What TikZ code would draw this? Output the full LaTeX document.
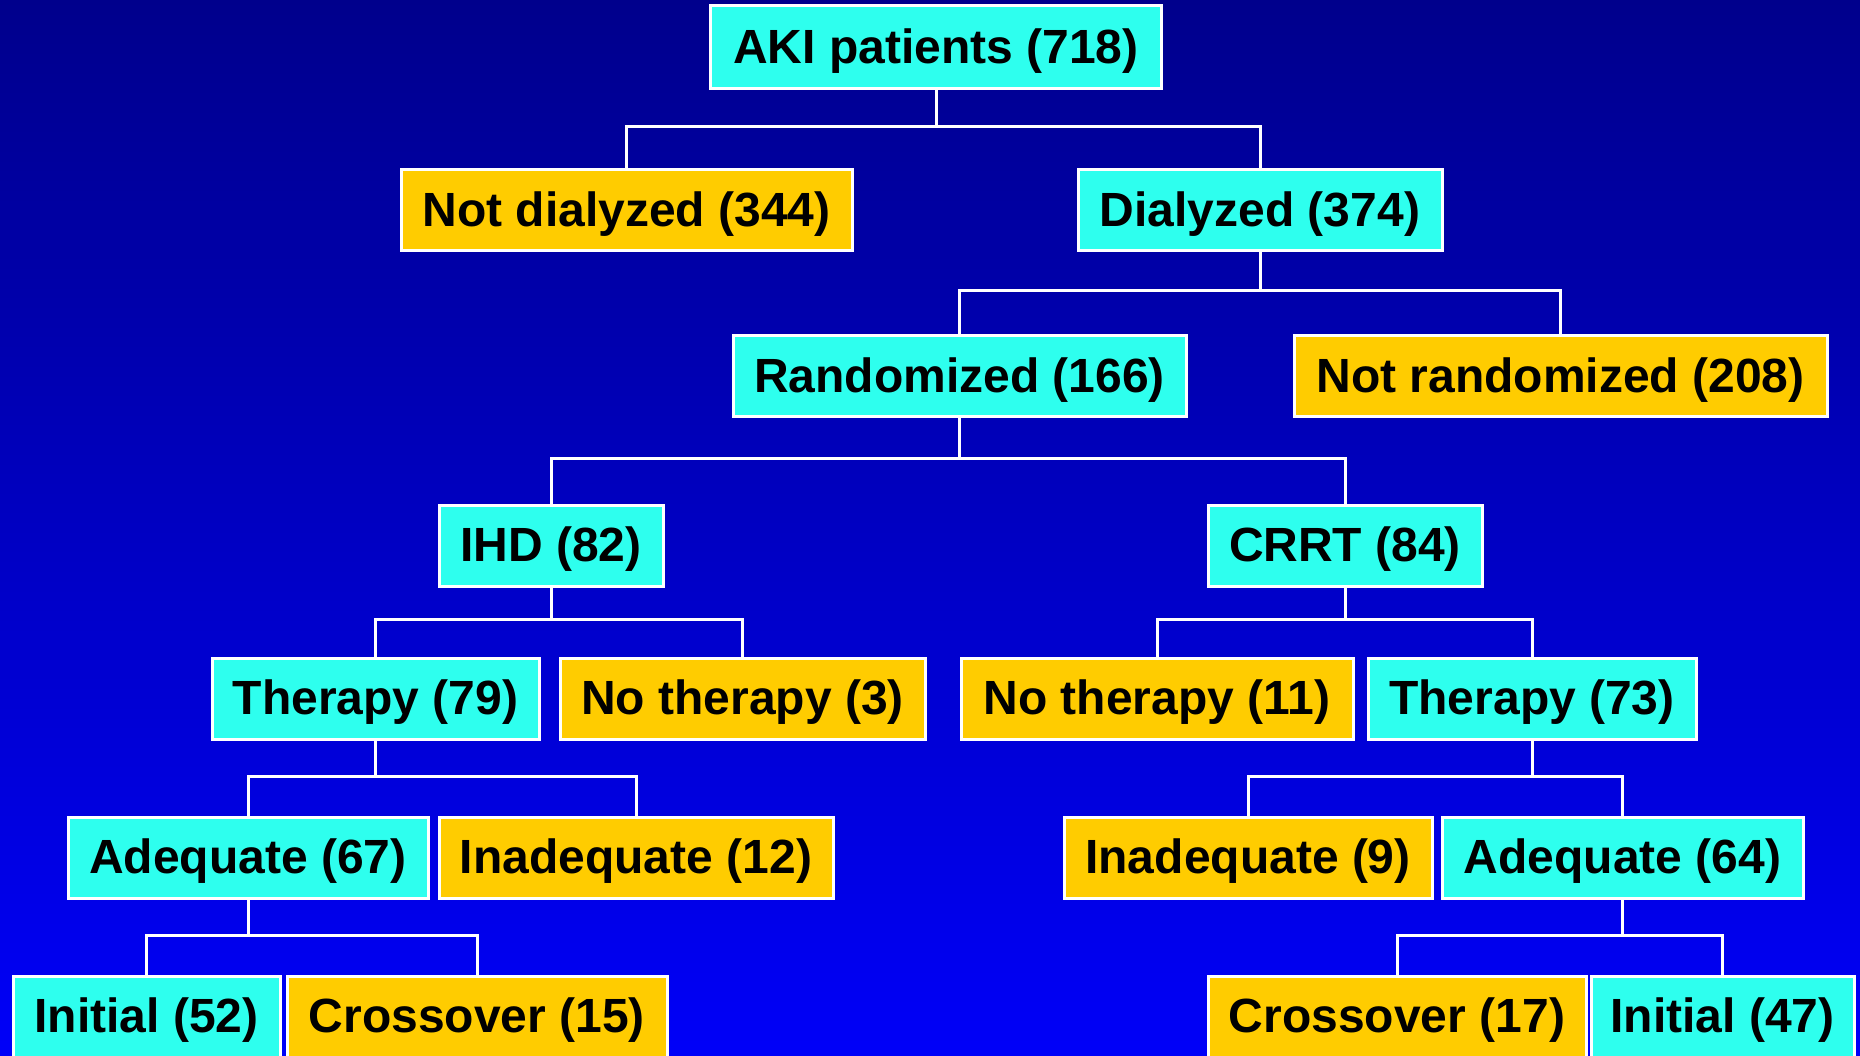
\documentclass[tikz,border=0pt]{standalone}
\usepackage{fontspec}
\setmainfont{Liberation Sans}
\definecolor{boxcyan}{RGB}{46,255,238}
\definecolor{boxorange}{RGB}{255,204,0}
\definecolor{bgtop}{RGB}{0,0,140}
\definecolor{bgbot}{RGB}{0,0,248}
\begin{document}
\begin{tikzpicture}[x=1pt,y=-1pt,
  box/.style={draw=white,line width=3pt,minimum height=81pt,inner sep=0pt,
    text height=36pt,text depth=4pt,
    font=\fontsize{48}{52}\selectfont\bfseries,text=black,anchor=center},
  cy/.style={box,fill=boxcyan},
  og/.style={box,fill=boxorange},
  link/.style={draw=white,line width=3pt}]
\useasboundingbox (0,0) rectangle (1860,1055);
\shade[top color=bgtop,bottom color=bgbot] (0,0) rectangle (1860,1055);
\begin{scope}
\clip (0,0) rectangle (1860,1055);
% nodes
\node[cy,minimum width=451pt,minimum height=83pt] (aki) at (936,47) {AKI patients (718)};
\node[og,minimum width=451pt] (notdial) at (626.5,210) {Not dialyzed (344)};
\node[cy,minimum width=364pt] (dial) at (1260,210) {Dialyzed (374)};
\node[cy,minimum width=453pt] (rand) at (959.5,376) {Randomized (166)};
\node[og,minimum width=533pt] (notrand) at (1560.5,376) {Not randomized (208)};
\node[cy,minimum width=224pt] (ihd) at (551,545.5) {IHD (82)};
\node[cy,minimum width=274pt] (crrt) at (1345,545.5) {CRRT (84)};
\node[cy,minimum width=327pt] (therA) at (375.5,698.5) {Therapy (79)};
\node[og,minimum width=365pt] (nothA) at (742.5,698.5) {No therapy (3)};
\node[og,minimum width=392pt] (nothB) at (1157,698.5) {No therapy (11)};
\node[cy,minimum width=328pt] (therB) at (1532,698.5) {Therapy (73)};
\node[cy,minimum width=360pt] (adeqA) at (248,857.5) {Adequate (67)};
\node[og,minimum width=394pt] (inadA) at (636,857.5) {Inadequate (12)};
\node[og,minimum width=368pt] (inadB) at (1248,857.5) {Inadequate (9)};
\node[cy,minimum width=361pt] (adeqB) at (1622.5,857.5) {Adequate (64)};
\node[cy,minimum width=267pt] (initA) at (146.5,1016.5) {Initial (52)};
\node[og,minimum width=380pt] (crossA) at (477,1016.5) {Crossover (15)};
\node[og,minimum width=378pt] (crossB) at (1397,1016.5) {Crossover (17)};
\node[cy,minimum width=263pt] (initB) at (1722.5,1016.5) {Initial (47)};
% connectors
\foreach \p/\c/\d in {aki/notdial/42, aki/dial/42,
    dial/rand/44, dial/notrand/44,
    rand/ihd/45, rand/crrt/45,
    ihd/therA/37, ihd/nothA/37,
    crrt/nothB/37, crrt/therB/37,
    therA/adeqA/39, therA/inadA/39,
    therB/inadB/39, therB/adeqB/39,
    adeqA/initA/39, adeqA/crossA/39,
    adeqB/crossB/39, adeqB/initB/39}
  \draw[link] (\p.south) |- ([yshift=\d pt]\c.north) -- (\c.north);
\end{scope}
\end{tikzpicture}
\end{document}
